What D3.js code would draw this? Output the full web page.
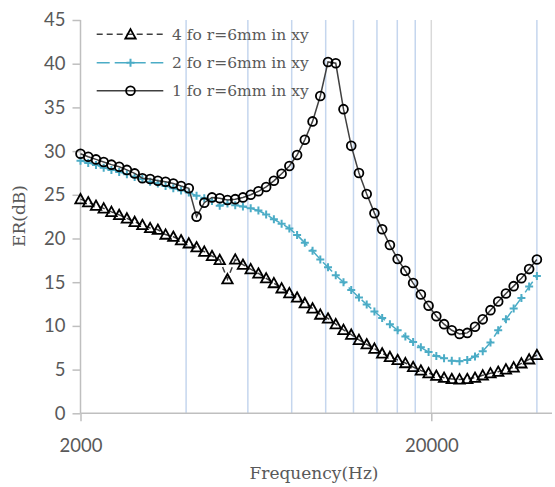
<!DOCTYPE html>
<html><head><meta charset="utf-8">
<script src="https://cdn.jsdelivr.net/npm/d3@7"></script>
<style>body{margin:0;background:#fff;} svg{display:block}</style>
</head><body><svg id="c" width="555" height="487"></svg>
<script>
const freqs = [2000, 2104, 2214, 2329, 2450, 2578, 2712, 2854, 3002, 3159,
  3323, 3496, 3678, 3870, 4071, 4284, 4507, 4741, 4988, 5248,
  5522, 5809, 6112, 6430, 6765, 7117, 7488, 7878, 8288, 8720,
  9174, 9652, 10154, 10683, 11239, 11825, 12441, 13089, 13770, 14488,
  15242, 16036, 16871, 17750, 18675, 19647, 20671, 21747, 22880, 24072,
  25326, 26645, 28033, 29493, 31029, 32645, 34345, 36134, 38016, 40000];
const er4 = [24.5, 24.15, 23.75, 23.45, 23.05, 22.7, 22.3, 21.9, 21.55, 21.2,
  21.0, 20.45, 20.2, 19.8, 19.45, 19.0, 18.5, 18.0, 17.55, 15.35,
  17.6, 17.0, 16.5, 16.0, 15.45, 14.9, 14.3, 13.75, 13.25, 12.6,
  12.0, 11.3, 10.85, 10.2, 9.55, 9.0, 8.4, 7.9, 7.4, 6.85,
  6.45, 6.1, 5.75, 5.3, 4.9, 4.6, 4.3, 4.07, 3.93, 3.88,
  3.93, 4.07, 4.35, 4.58, 4.76, 5.03, 5.26, 5.72, 6.18, 6.67];
const er2 = [28.9, 28.65, 28.4, 28.1, 27.85, 27.6, 27.35, 27.05, 26.8, 26.5,
  26.3, 26.0, 25.75, 25.5, 25.25, 24.9, 24.6, 24.3, 23.75, 24.0,
  23.8, 23.65, 23.45, 23.2, 22.75, 22.2, 21.7, 21.15, 20.4, 19.5,
  18.6, 17.6, 16.7, 15.8, 15.0, 14.1, 13.25, 12.45, 11.65, 10.9,
  10.2, 9.5, 8.8, 8.15, 7.55, 7.0, 6.55, 6.3, 6.0, 5.95,
  6.1, 6.5, 7.1, 8.1, 9.5, 10.75, 12.0, 13.2, 14.5, 15.7];
const er1 = [29.7, 29.35, 29.05, 28.75, 28.45, 28.2, 27.85, 27.45, 26.9, 26.8,
  26.6, 26.5, 26.3, 26.0, 25.75, 22.5, 24.1, 24.7, 24.6, 24.4,
  24.5, 24.7, 25.0, 25.4, 25.9, 26.6, 27.4, 28.3, 29.55, 31.3,
  33.4, 36.3, 40.2, 40.05, 34.8, 30.6, 27.5, 25.1, 22.9, 21.05,
  19.25, 17.65, 16.3, 14.9, 13.6, 12.3, 11.1, 10.2, 9.5, 9.07,
  9.2, 9.9, 10.75, 11.8, 12.8, 13.7, 14.55, 15.45, 16.5, 17.6];
const yTicks = [0, 5, 10, 15, 20, 25, 30, 35, 40, 45];
const xTicks = [2000, 20000];
const minorGrid = [4000, 6000, 8000, 10000, 12000, 14000, 16000, 18000, 40000];
const majorGrid = [20000];
const names = ["4 fo r=6mm in xy", "2 fo r=6mm in xy", "1 fo r=6mm in xy"];
const xTitle = "Frequency(Hz)";
const yTitle = "ER(dB)";

const svg = d3.select("#c");
const x = d3.scaleLog().domain([2000, 44170]).range([80.5, 552]);
const y = d3.scaleLinear().domain([0, 45]).range([413.3, 20]);
const sans = "Lato, 'Open Sans', sans-serif";
const serif = "'DejaVu Serif', serif";
const txt = "#595959";

// gridlines
svg.append("g").selectAll("line").data(minorGrid).join("line")
  .attr("x1", d => x(d)).attr("x2", d => x(d))
  .attr("y1", y(45)).attr("y2", y(0))
  .attr("stroke", "#c5d6ee").attr("stroke-width", 1.5);
svg.append("g").selectAll("line").data(majorGrid).join("line")
  .attr("x1", d => x(d)).attr("x2", d => x(d))
  .attr("y1", y(45)).attr("y2", y(0))
  .attr("stroke", "#d9d9d9").attr("stroke-width", 1.5);

// y axis
const yAxis = svg.append("g").attr("transform", `translate(${x(2000)},0)`)
  .call(d3.axisLeft(y).tickValues(yTicks).tickSize(8).tickPadding(7).tickFormat(d3.format("d")));
yAxis.select(".domain").attr("stroke", "#bfbfbf").attr("stroke-width", 1.5).attr("d", `M0,${y(45)}V${y(0)}`);
yAxis.selectAll(".tick line").attr("stroke", "#bfbfbf").attr("stroke-width", 1.5);
yAxis.selectAll(".tick text").attr("fill", txt).attr("font-family", sans).attr("font-size", 18.5);

// x axis
const xAxis = svg.append("g").attr("transform", `translate(0,${y(0)})`)
  .call(d3.axisBottom(x).tickValues(xTicks).tickSize(8).tickPadding(18).tickFormat(d3.format("d")));
xAxis.select(".domain").attr("stroke", "#bfbfbf").attr("stroke-width", 1.5).attr("d", `M${x(2000)},0H552`);
xAxis.selectAll(".tick line").attr("stroke", "#bfbfbf").attr("stroke-width", 1.5);
xAxis.selectAll(".tick text").attr("fill", txt).attr("font-family", sans).attr("font-size", 18.5);

// titles
svg.append("text").attr("x", 314).attr("y", 479).attr("text-anchor", "middle")
  .attr("font-family", serif).attr("font-size", 17).attr("fill", txt).text(xTitle);
svg.append("text").attr("transform", `translate(25,216) rotate(-90)`).attr("text-anchor", "middle")
  .attr("font-family", serif).attr("font-size", 17).attr("fill", txt).text(yTitle);

const triPath = "M0,-5.2L5.2,4.2L-5.2,4.2Z";
const plusPath = "M-4,0H4M0,-4V4";

const series = [
  {vals: er4, stroke: "#404040", dash: "6,4", width: 1.5, marker: "tri"},
  {vals: er2, stroke: "#4bacc6", dash: "13,5", width: 1.5, marker: "plus"},
  {vals: er1, stroke: "#404040", dash: null, width: 1.5, marker: "circ"}
];

function drawMarker(g, type, cx, cy) {
  if (type === "tri") {
    g.append("path").attr("d", triPath).attr("transform", `translate(${cx},${cy})`)
      .attr("fill", "none").attr("stroke", "#000").attr("stroke-width", 1.8);
  } else if (type === "plus") {
    g.append("path").attr("d", plusPath).attr("transform", `translate(${cx},${cy})`)
      .attr("fill", "none").attr("stroke", "#4bacc6").attr("stroke-width", 2);
  } else {
    g.append("circle").attr("cx", cx).attr("cy", cy).attr("r", 4.4)
      .attr("fill", "none").attr("stroke", "#000").attr("stroke-width", 1.8);
  }
}

const line = d3.line().x(d => x(d[0])).y(d => y(d[1]));
series.forEach(s => {
  const pts = freqs.map((f, i) => [f, s.vals[i]]);
  const g = svg.append("g");
  g.append("path").attr("d", line(pts)).attr("fill", "none")
    .attr("stroke", s.stroke).attr("stroke-width", s.width)
    .attr("stroke-dasharray", s.dash);
  pts.forEach(p => drawMarker(g, s.marker, x(p[0]), y(p[1])));
});

// legend
const legY = [34.3, 62.7, 90.7];
series.forEach((s, i) => {
  const g = svg.append("g");
  g.append("line").attr("x1", 96.7).attr("x2", 163.3).attr("y1", legY[i]).attr("y2", legY[i])
    .attr("stroke", s.stroke).attr("stroke-width", s.width).attr("stroke-dasharray", s.dash);
  drawMarker(g, s.marker, 130.5, legY[i]);
  g.append("text").attr("x", 172).attr("y", legY[i] + 5.5)
    .attr("font-family", serif).attr("font-size", 15.5).attr("fill", txt).text(names[i]);
});
</script></body></html>
